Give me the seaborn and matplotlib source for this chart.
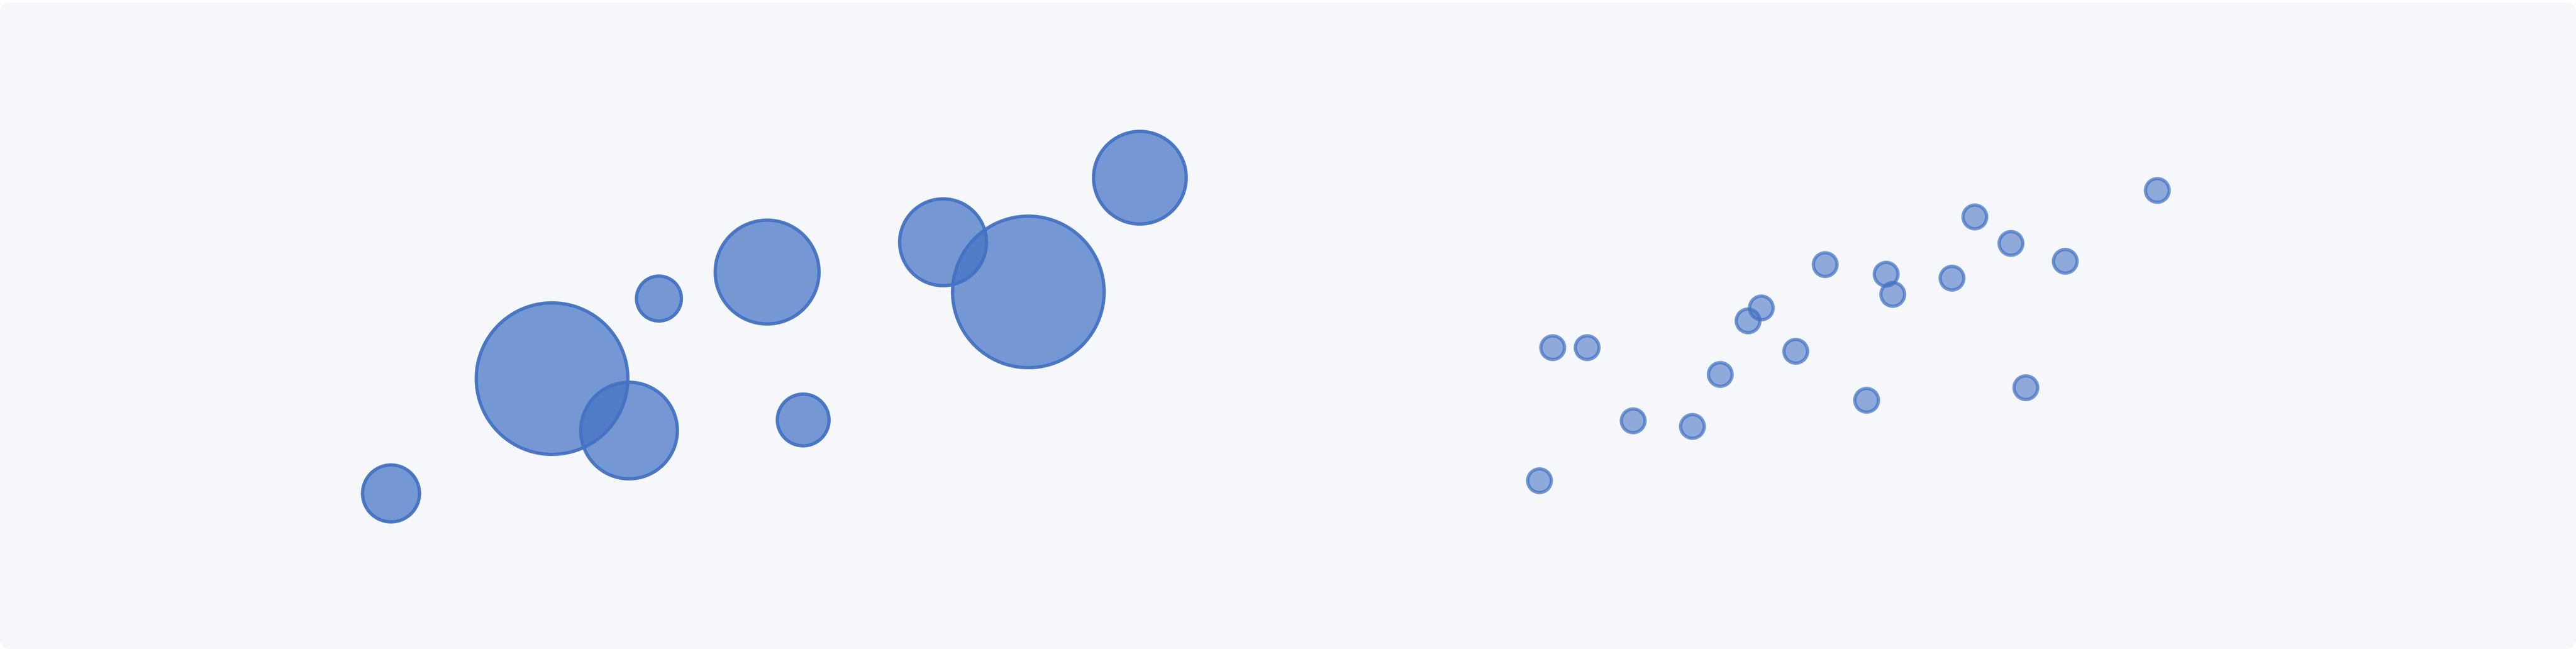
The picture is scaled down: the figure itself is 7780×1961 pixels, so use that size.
import matplotlib
matplotlib.use("Agg")
import matplotlib.pyplot as plt
from matplotlib.patches import FancyBboxPatch
import numpy as np
import pandas as pd
import seaborn as sns

# series 1: bubbles (size = value)
big_x = [15.18, 21.43, 24.42, 25.58, 29.78, 31.18, 36.61, 39.92, 44.25]
big_y = [23.97, 41.66, 33.66, 54.00, 58.08, 35.29, 62.67, 55.02, 72.62]
big_val = [74, 524, 213, 46, 246, 61, 172, 524, 196]

# series 2: small fixed-size points
small_x = [60.27, 61.61, 59.76, 63.39, 65.69, 66.77, 67.85, 68.37, 69.70, 70.85,
           72.46, 73.21, 73.47, 75.77, 76.66, 78.06, 78.64, 80.17, 83.74]
small_y = [46.46, 46.46, 25.96, 35.19, 34.32, 42.33, 50.59, 52.58, 45.90, 59.26,
           38.35, 57.78, 54.67, 57.17, 66.60, 62.52, 40.29, 59.77, 70.68]

big = pd.DataFrame({"x": big_x, "y": big_y, "v": big_val})
small = pd.DataFrame({"x": small_x, "y": small_y})

sns.set_theme(style="white")
fig = plt.figure(figsize=(77.8, 19.61), dpi=100)
fig.patch.set_facecolor("white")

# rounded card background
card = FancyBboxPatch((0, 0), 1, 1 - 7 / 1961,
                      boxstyle="round,pad=0,rounding_size=0.004",
                      transform=fig.transFigure, facecolor="#f5f7fa",
                      edgecolor="none", mutation_aspect=7780 / 1961, zorder=-10)
fig.patches.append(card)

ax = fig.add_axes([0, 0, 1, 1])
ax.set_facecolor("none")
ax.set_zorder(5)

k = (1.44 * 10) ** 2  # area per unit value, in pt^2
sns.scatterplot(data=big, x="x", y="y", size="v",
                sizes=(k * min(big_val), k * max(big_val)),
                size_norm=(min(big_val), max(big_val)),
                color=(68 / 255, 114 / 255, 196 / 255, 0.72),
                edgecolor=(68 / 255, 114 / 255, 196 / 255, 0.95),
                linewidth=7.2, legend=False, ax=ax)
sns.scatterplot(data=small, x="x", y="y", s=2650,
                color=(68 / 255, 114 / 255, 196 / 255, 0.58),
                edgecolor=(68 / 255, 114 / 255, 196 / 255, 0.72),
                linewidth=7.2, legend=False, ax=ax)

ax.set_xlim(0, 100)
ax.set_ylim(0, 100)
ax.set_axis_off()

fig.savefig("out.png", dpi=100, facecolor="white")
